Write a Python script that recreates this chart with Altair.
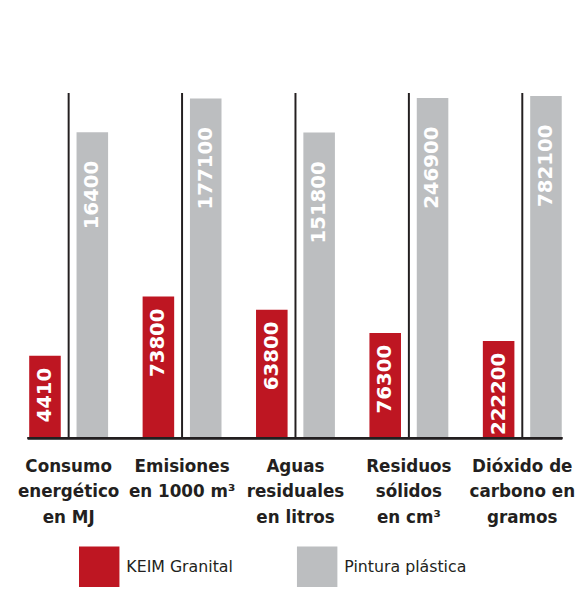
import altair as alt
import pandas as pd

# ---- data ----
categorias = [
    "Consumo|energético|en MJ",
    "Emisiones|en 1000 m³",
    "Aguas|residuales|en litros",
    "Residuos|sólidos|en cm³",
    "Dióxido de|carbono en|gramos",
]
series = ["KEIM Granital", "Pintura plástica"]
keim = [4410, 73800, 63800, 76300, 222200]
pintura = [16400, 177100, 151800, 246900, 782100]
# value reached by the reference (separator) line in each group: each group has its own scale
escala = [18500, 180000, 171500, 250500, 789000]

rows = []
for c, k, p, e in zip(categorias, keim, pintura, escala):
    rows.append({"grupo": c, "serie": series[0], "valor": k, "escala": e})
    rows.append({"grupo": c, "serie": series[1], "valor": p, "escala": e})
df = pd.DataFrame(rows)

ROJO = "#be1622"
GRIS = "#bcbec0"
NEGRO = "#231f20"

x_enc = alt.X(
    "grupo:N",
    scale=alt.Scale(domain=categorias, paddingInner=0.3, paddingOuter=0.15),
    axis=None,
)
y_enc = alt.Y(
    "frac:Q", scale=alt.Scale(domain=[0, 1], nice=False, zero=True), axis=None
)
col_enc = alt.Color(
    "serie:N",
    scale=alt.Scale(domain=series, range=[ROJO, GRIS]),
    legend=alt.Legend(
        title=None,
        orient="none",
        legendX=68,
        legendY=460,
        direction="horizontal",
        symbolType="square",
        symbolSize=1681,
        symbolStrokeWidth=0,
        symbolOpacity=1,
        labelFont="DejaVu Sans",
        labelFontSize=16,
        labelColor=NEGRO,
        labelOffset=7,
        columnPadding=64,
        padding=0,
    ),
)

base = alt.Chart(df).transform_calculate(frac="datum.valor / datum.escala")
rojo = base.transform_filter(alt.datum.serie == series[0])
gris = base.transform_filter(alt.datum.serie == series[1])

barras_rojo = rojo.mark_bar(width=32, xOffset=-24).encode(x=x_enc, y=y_enc, color=col_enc)
barras_gris = gris.mark_bar(width=32, xOffset=24).encode(x=x_enc, y=y_enc, color=col_enc)

separadores = gris.mark_rule(color=NEGRO, strokeWidth=2).encode(
    x=x_enc, y=alt.value(0), y2=alt.value(350)
)

linea_base = gris.mark_rule(color=NEGRO, strokeWidth=2.5).encode(
    x=alt.value(16), x2=alt.value(558), y=alt.value(350)
)

etiquetas = gris.mark_text(
    lineBreak="|",
    lineHeight=26,
    font="DejaVu Sans",
    fontWeight="bold",
    fontSize=17,
    color=NEGRO,
    align="center",
    baseline="top",
).encode(x=x_enc, y=alt.value(371), text="grupo:N")

txt_style = dict(
    angle=270,
    align="right",
    baseline="middle",
    font="DejaVu Sans",
    fontWeight="bold",
    fontSize=20,
    color="white",
)
texto_rojo = rojo.mark_text(dx=-12, xOffset=-24, **txt_style).encode(
    x=x_enc, y=y_enc, text=alt.Text("valor:Q", format="d")
)
texto_gris = gris.mark_text(dx=-29, xOffset=24, **txt_style).encode(
    x=x_enc, y=y_enc, text=alt.Text("valor:Q", format="d")
)

chart = (
    alt.layer(
        barras_rojo,
        barras_gris,
        separadores,
        linea_base,
        etiquetas,
        texto_rojo,
        texto_gris,
    )
    .properties(
        width=575,
        height=350,
        padding={"left": 4, "top": 82, "right": 0, "bottom": 161},
        autosize="none",
        background="white",
    )
    .configure_view(stroke=None)
)

chart.save("out.html", embed_options={"renderer": "svg", "actions": False})
